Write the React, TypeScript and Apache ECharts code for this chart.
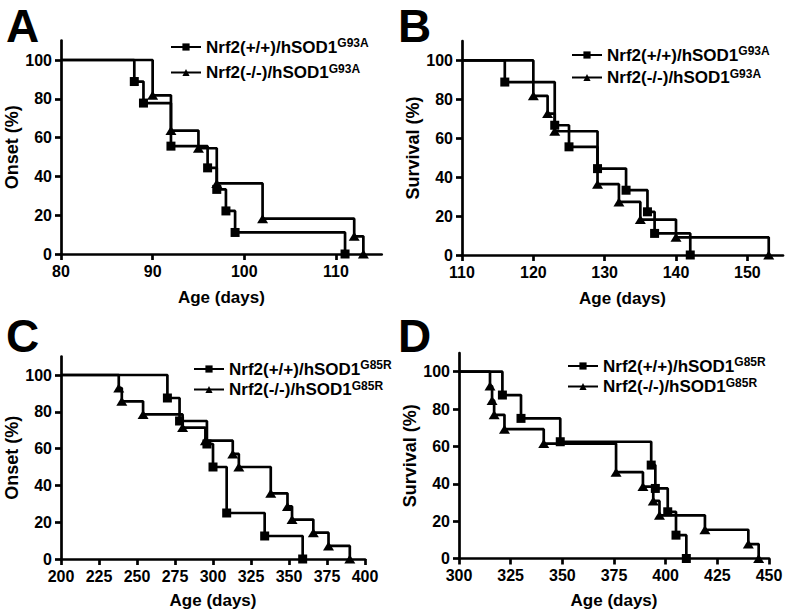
import React, { useEffect, useRef } from "react";
import * as echarts from "echarts";

// Panel A: onset, G93A
const aWtDays = [80, 88, 89, 92, 96, 97, 98, 99, 111];
const aWtPct = [100, 88.9, 77.8, 55.6, 44.4, 33.3, 22.2, 11.1, 0];
const aKoDays = [80, 90, 92, 95, 97, 102, 112, 113];
const aKoPct = [100, 81.8, 63.6, 54.5, 36.4, 18.2, 9.1, 0];
// Panel B: survival, G93A
const bWtDays = [110, 116, 123, 125, 129, 133, 136, 137, 142];
const bWtPct = [100, 88.9, 66.7, 55.6, 44.4, 33.3, 22.2, 11.1, 0];
const bKoDays = [110, 120, 122, 123, 129, 132, 135, 140, 153];
const bKoPct = [100, 81.8, 72.7, 63.6, 36.4, 27.3, 18.2, 9.1, 0];
// Panel C: onset, G85R
const cWtDays = [200, 270, 278, 296, 300, 309, 334, 359];
const cWtPct = [100, 87.5, 75, 62.5, 50, 25, 12.5, 0];
const cKoDays = [200, 238, 240, 254, 280, 295, 313, 317, 338, 349, 352, 366, 376, 390];
const cKoPct = [100, 92.9, 85.7, 78.6, 71.4, 64.3, 57.1, 50, 35.7, 28.6, 21.4, 14.3, 7.1, 0];
// Panel D: survival, G85R
const dWtDays = [300, 321, 330, 349, 393, 395, 401, 405, 410];
const dWtPct = [100, 87.5, 75, 62.5, 50, 37.5, 25, 12.5, 0];
const dKoDays = [300, 315, 316, 317, 322, 341, 376, 389, 394, 397, 419, 440, 445];
const dKoPct = [100, 92.3, 84.6, 76.9, 69.2, 61.5, 46.2, 38.5, 30.8, 23.1, 15.4, 7.7, 0];

const yTicks = [0, 20, 40, 60, 80, 100];
const aXTicks = [80, 90, 100, 110];
const bXTicks = [110, 120, 130, 140, 150];
const cXTicks = [200, 225, 250, 275, 300, 325, 350, 375, 400];
const dXTicks = [300, 325, 350, 375, 400, 425, 450];

const panelLetters = ["A", "B", "C", "D"];
const yNames = ["Onset (%)", "Survival (%)", "Onset (%)", "Survival (%)"];
const xName = "Age (days)";
const wtLabel = "Nrf2(+/+)/hSOD1";
const koLabel = "Nrf2(-/-)/hSOD1";
const supG93A = "G93A";
const supG85R = "G85R";

const FONT = "'Liberation Sans', Arial, Helvetica, sans-serif";

export default function App() {
  const ref = useRef<HTMLDivElement>(null);
  useEffect(() => {
    if (!ref.current) return;
    const chart = echarts.init(ref.current, null, { renderer: "svg" });

    const grids = [
      { left: 61, top: 40.6, width: 320.7, height: 213.4 },
      { left: 462, top: 41, width: 321, height: 214 },
      { left: 61, top: 356.6, width: 304, height: 202.4 },
      { left: 459, top: 353, width: 310, height: 205.5 },
    ];
    const xRanges = [
      [80, 115, 10, aXTicks],
      [110, 155, 10, bXTicks],
      [200, 400, 25, cXTicks],
      [300, 450, 25, dXTicks],
    ] as any[];
    const xNameGaps = [35, 35, 33, 33];

    const axisCommon = {
      axisLine: { lineStyle: { color: "#000", width: 2.7 } },
      axisTick: { lineStyle: { color: "#000", width: 2.7 }, length: 6 },
      splitLine: { show: false },
    };

    const xAxis = xRanges.map((r, i) => ({
      type: "value",
      gridIndex: i,
      min: r[0],
      max: r[1],
      interval: r[2],
      name: xName,
      nameLocation: "middle",
      nameGap: xNameGaps[i],
      nameTextStyle: { fontFamily: FONT, fontWeight: "bold", fontSize: 17, color: "#000" },
      ...axisCommon,
      axisTick: { ...axisCommon.axisTick, customValues: r[3] },
      axisLabel: {
        customValues: r[3],
        fontFamily: FONT,
        fontWeight: "bold",
        fontSize: 16,
        color: "#000",
        margin: 9,
      },
    }));
    const yAxis = grids.map((_, i) => ({
      type: "value",
      gridIndex: i,
      min: 0,
      max: 110,
      interval: 20,
      name: yNames[i],
      nameLocation: "middle",
      nameGap: 39,
      nameTextStyle: { fontFamily: FONT, fontWeight: "bold", fontSize: 18, color: "#000" },
      ...axisCommon,
      axisTick: { ...axisCommon.axisTick, customValues: yTicks },
      axisLabel: {
        customValues: yTicks,
        fontFamily: FONT,
        fontWeight: "bold",
        fontSize: 16,
        color: "#000",
        margin: 9,
      },
    }));

    const mk = (days: number[], pct: number[]) =>
      days.map((d, k) => (k === 0 ? { value: [d, pct[k]], symbol: "none" } : { value: [d, pct[k]] }));

    const sets = [
      [aWtDays, aWtPct, aKoDays, aKoPct, supG93A],
      [bWtDays, bWtPct, bKoDays, bKoPct, supG93A],
      [cWtDays, cWtPct, cKoDays, cKoPct, supG85R],
      [dWtDays, dWtPct, dKoDays, dKoPct, supG85R],
    ] as any[];

    const displayNames: Record<string, string> = {};
    const series: any[] = [];
    sets.forEach((s, i) => {
      const wtName = `p${i}wt`;
      const koName = `p${i}ko`;
      displayNames[wtName] = `{a|${wtLabel}}{s|${s[4]}}`;
      displayNames[koName] = `{a|${koLabel}}{s|${s[4]}}`;
      series.push({
        type: "line",
        name: wtName,
        xAxisIndex: i,
        yAxisIndex: i,
        step: "end",
        data: mk(s[0], s[1]),
        symbol: "rect",
        symbolSize: 9,
        itemStyle: { color: "#000" },
        lineStyle: { color: "#000", width: 2.7 },
      });
      series.push({
        type: "line",
        name: koName,
        xAxisIndex: i,
        yAxisIndex: i,
        step: "end",
        data: mk(s[2], s[3]),
        symbol: "triangle",
        symbolSize: [11, 9],
        itemStyle: { color: "#000" },
        lineStyle: { color: "#000", width: 2.7 },
      });
    });

    const legendPos = [
      { left: 170, top: 37, gap: 7 },
      { left: 571, top: 45, gap: 4 },
      { left: 193, top: 359, gap: 2 },
      { left: 567, top: 356, gap: 2 },
    ];
    const legend = legendPos.map((p, i) => ({
      left: p.left,
      top: p.top,
      padding: 0,
      orient: "vertical",
      itemWidth: 30,
      itemHeight: 9,
      itemGap: p.gap,
      selectedMode: false,
      data: [`p${i}wt`, `p${i}ko`],
      formatter: (n: string) => displayNames[n],
      textStyle: {
        rich: {
          a: { fontFamily: FONT, fontWeight: "bold", fontSize: 17, color: "#000", lineHeight: 20 },
          s: { fontFamily: FONT, fontWeight: "bold", fontSize: 12, color: "#000", verticalAlign: "top", lineHeight: 12 },
        },
      },
    }));

    const letterPos = [
      [6, 3],
      [398, 3],
      [6, 313],
      [398, 313],
    ];
    const graphic = letterPos.map((p, i) => ({
      type: "text",
      left: p[0],
      top: p[1],
      style: { text: panelLetters[i], font: `bold 46px ${FONT}`, fill: "#000" },
    }));

    chart.setOption({
      animation: false,
      backgroundColor: "#fff",
      grid: grids,
      xAxis,
      yAxis,
      legend,
      series,
      graphic,
    });
    return () => chart.dispose();
  }, []);
  return (
    <div
      ref={ref}
      style={{ position: "fixed", left: 0, top: 0, width: 789, height: 616, background: "#fff" }}
    />
  );
}
